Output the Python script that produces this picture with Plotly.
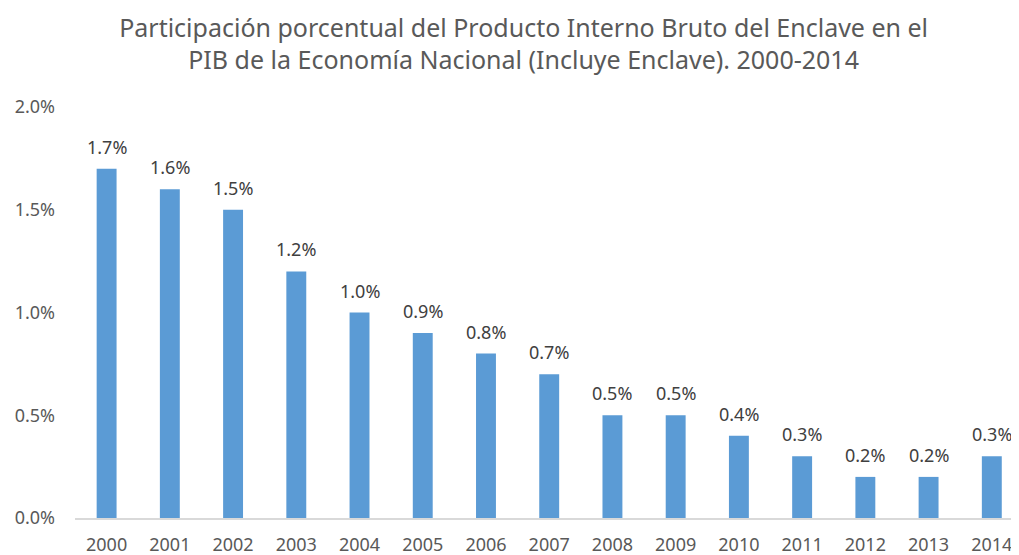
import plotly.graph_objects as go

years = ["2000", "2001", "2002", "2003", "2004", "2005", "2006", "2007",
         "2008", "2009", "2010", "2011", "2012", "2013", "2014"]
shares = [0.017, 0.016, 0.015, 0.012, 0.010, 0.009, 0.008, 0.007,
          0.005, 0.005, 0.004, 0.003, 0.002, 0.002, 0.003]
y_ticks = [0, 0.005, 0.010, 0.015, 0.020]
y_tick_labels = ["0.0%", "0.5%", "1.0%", "1.5%", "2.0%"]
title_text = ("Participación porcentual del Producto Interno Bruto del Enclave en el<br>"
              "PIB de la Economía Nacional (Incluye Enclave). 2000-2014")

FONT = "Noto Sans"

fig = go.Figure(go.Bar(
    x=years, y=shares,
    marker=dict(color="#5B9BD5", line=dict(width=0)),
    hoverinfo="x+y",
))

# data labels: positioned at each bar's category index and value
for i, v in enumerate(shares):
    fig.add_annotation(
        x=i, y=v, text=f"{v*100:.1f}%", showarrow=False,
        xanchor="center", yanchor="bottom", yshift=8,
        font=dict(family=FONT, size=18, color="#404040"),
    )

fig.update_layout(
    width=1011, height=547,
    paper_bgcolor="white", plot_bgcolor="white",
    margin=dict(l=67, r=0, t=99, b=37, autoexpand=False),
    bargap=0.685,
    showlegend=False,
    title=dict(text=title_text, x=0.51, xanchor="center", y=0.947, yanchor="top",
               font=dict(family=FONT, size=25, color="#595959")),
    font=dict(family=FONT, color="#595959"),
)
fig.update_xaxes(
    type="category", range=[-0.5, 14.43],
    showline=True, linecolor="#D9D9D9", linewidth=1.5,
    ticks="", tickfont=dict(family=FONT, size=18, color="#595959"),
    showgrid=False, ticklabelstandoff=10, automargin=False,
)
fig.update_yaxes(
    range=[0, 0.02], tickvals=y_ticks, ticktext=y_tick_labels,
    showgrid=False, zeroline=False, showline=False,
    tickfont=dict(family=FONT, size=18, color="#595959"),
    ticks="", ticklabelstandoff=19, automargin=False,
)

fig.write_html("out.html")
